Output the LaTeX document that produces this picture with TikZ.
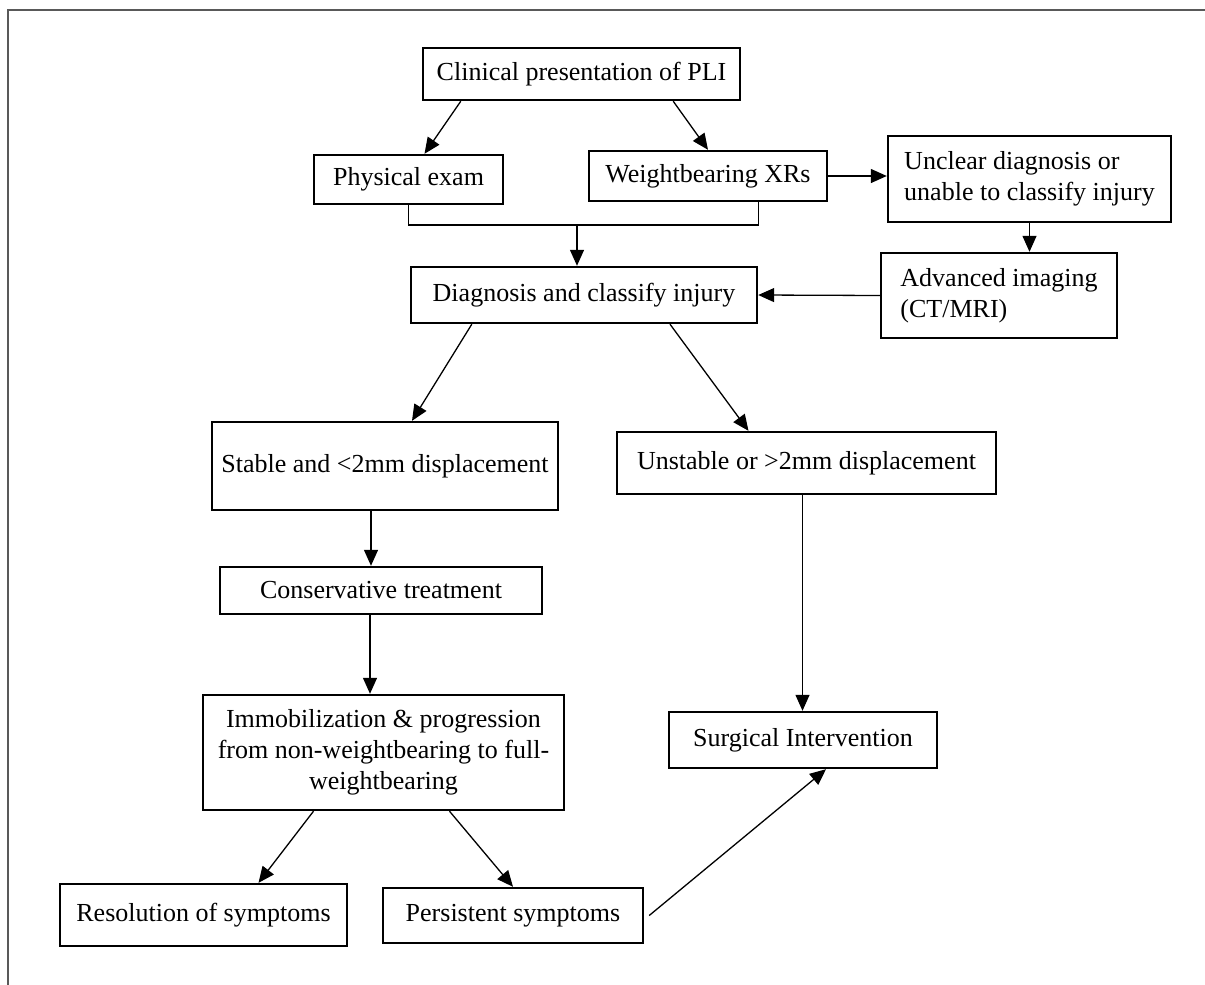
\documentclass[tikz,border=0pt]{standalone}
\usepackage{fontspec}
\setmainfont{Liberation Serif}
\usetikzlibrary{
  arrows.meta,
  positioning
}
\tikzset{
  ->,
  >={Triangle[length=16pt,width=14pt]},
  every node/.style = {font=\fontsize{26}{31}\selectfont},
  box/.style = {draw, line width=2.4pt, inner sep=4pt, align=center},
  link/.style = {line width=1.3pt},
}

\begin{document}
\begin{tikzpicture}[x=1pt, y=-1pt]
  \useasboundingbox (0,0) rectangle (1205,985);
  \draw[-, line width=1.6pt, black!65] (8,985) -- (8,10) -- (1205,10);

  \node[box, minimum width=317, minimum height=52] (clinical) at (581.5,74) {Clinical presentation of PLI};
  \node[box, minimum width=189, minimum height=49] (exam) at (408.5,179.5) {Physical exam};
  \node[box, minimum width=238, minimum height=50] (xrs) at (708,176) {Weightbearing XRs};
  \node[box, align=left, minimum width=283, minimum height=86] (unclear) at (1029.5,179) {Unclear diagnosis or\\unable to classify injury};
  \node[box, align=left, minimum width=236, minimum height=85] (imaging) at (999,295.5) {Advanced imaging\\(CT/MRI)};
  \node[box, minimum width=346, minimum height=56] (diagnosis) at (584,295) {Diagnosis and classify injury};
  \node[box, minimum width=346, minimum height=88] (stable) at (385,466) {Stable and <2mm displacement};
  \node[box, minimum width=379, minimum height=62] (unstable) at (806.5,463) {Unstable or >2mm displacement};
  \node[box, minimum width=322, minimum height=47] (conservative) at (381,590.5) {Conservative treatment};
  \node[box, minimum width=361, minimum height=115] (immob) at (383.5,752.5) {Immobilization \& progression\\from non-weightbearing to full-\\weightbearing};
  \node[box, minimum width=268, minimum height=56] (surgical) at (803,740) {Surgical Intervention};
  \node[box, minimum width=287, minimum height=62] (resolution) at (203.5,915) {Resolution of symptoms};
  \node[box, minimum width=260, minimum height=55] (persistent) at (513,915.5) {Persistent symptoms};

  \coordinate (merge) at (577,225);
  \draw[-, link] (exam.south) |- (merge) -| ([xshift=-70pt]xrs.south east);

  \path[link]
      ([xshift=39pt]clinical.south west) edge ([xshift=16pt]exam.north)
      ([xshift=-68pt]clinical.south east) edge (xrs.north)
      (merge) edge (merge |- diagnosis.north)
      (xrs.east) edge (xrs.east -| unclear.west)
      (unclear.south) edge (unclear.south |- imaging.north)
      (imaging.west) edge (diagnosis.east)
      ([xshift=62pt]diagnosis.south west) edge ([xshift=27pt]stable.north)
      ([xshift=86pt]diagnosis.south) edge ([xshift=-58pt]unstable.north)
      ([xshift=-14pt]stable.south) edge ([xshift=-14pt]stable.south |- conservative.north)
      ([xshift=-11pt]conservative.south) edge ([xshift=-11pt]conservative.south |- immob.north)
      ([xshift=-4pt]unstable.south) edge ([xshift=-4pt]unstable.south |- surgical.north)
      ([xshift=-70pt]immob.south) edge ([xshift=55pt]resolution.north)
      ([xshift=66pt]immob.south) edge (persistent.north)
      ([xshift=5pt]persistent.east) edge ([xshift=23pt]surgical.south);
\end{tikzpicture}
\end{document}
